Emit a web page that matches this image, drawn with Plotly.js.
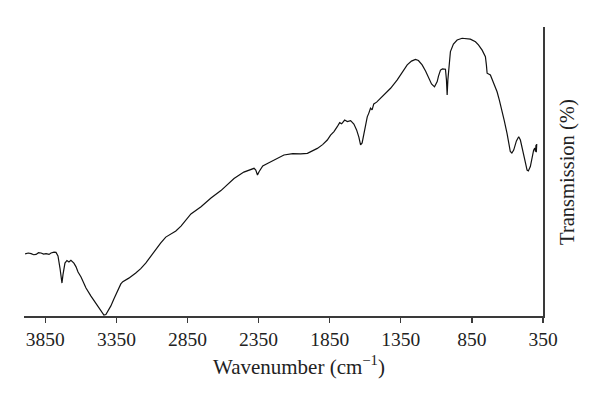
<!DOCTYPE html>
<html>
<head>
<meta charset="utf-8">
<script src="https://cdn.plot.ly/plotly-3.0.1.min.js"></script>
<style>html,body{margin:0;padding:0;background:#fff;}#chart{width:600px;height:396px;}</style>
</head>
<body>
<div id="chart"></div>
<script>
// Wavenumber (cm^-1)
const wavenumber = [3992,3970,3950,3932,3915,3898,3880,3862,3845,3824,3810,3789,3775,3761,3747,3733,3726,3712,3698,3684,3670,3649,3634,3620,3599,3564,3529,3494,3459,3438,3424,3403,3389,3368,3340,3319,3305,3263,3214,3179,3144,3108,3073,3038,3003,2967,2932,2896,2826,2755,2685,2615,2523,2454,2382,2370,2358,2347,2321,2288,2230,2172,2110,2054,2007,1937,1900,1867,1844,1820,1797,1780,1766,1745,1726,1703,1680,1661,1645,1633,1622,1610,1598,1586,1575,1563,1552,1540,1520,1492,1422,1375,1345,1305,1275,1247,1226,1200,1176,1153,1134,1113,1094,1085,1071,1057,1036,1029,1024,1019,1013,1001,980,954,919,889,861,825,804,778,755,748,743,720,699,673,657,638,622,603,590,580,569,556,537,521,509,497,481,462,453,439,429,416,408,403,399,397,394];
// Transmission (%) (arbitrary units, 0-100)
const transmission = [21.5,21.8,21.6,21.2,21.3,21.9,21.8,21.4,21.6,21.3,21.8,22.1,22.0,20.8,16.6,11.4,14.2,18.3,19.2,18.7,19.3,18.3,17.0,15.2,13.5,9.7,6.9,4.5,2.1,0.35,0.5,2.1,3.5,5.9,9.0,11.1,11.9,13.1,14.9,16.4,18.3,20.8,22.8,25.3,27.3,28.5,29.4,31.1,35.3,37.8,40.8,43.4,47.6,49.8,51.1,50.5,48.8,49.9,51.9,52.8,54.3,55.7,56.2,56.1,56.3,58.0,59.3,60.9,62.6,63.8,65.5,66.9,66.5,67.8,67.3,67.6,66.4,64.4,61.9,59.2,59.9,63.0,65.6,68.9,70.2,71.9,71.3,73.4,74.0,75.3,78.8,81.7,84.1,86.9,88.2,88.8,88.4,86.9,84.8,82.2,80.3,79.3,81.1,83.0,85.1,85.5,85.4,81.7,76.5,81.7,85.1,91.5,94.1,95.5,96.1,96.0,95.8,94.9,93.8,92.0,89.7,86.8,84.0,83.4,81.0,77.6,74.7,71.3,67.5,63.2,59.9,56.9,56.4,57.4,60.6,62.0,60.9,58.6,54.7,50.5,50.2,51.7,54.7,57.4,58.1,56.9,59.2,56.7,59.5];
const xTicks = [3850,3350,2850,2350,1850,1350,850,350];

const font = "'Liberation Serif', 'Times New Roman', serif";
const axisColor = '#3a3a3a';
const textColor = '#222';

Plotly.newPlot('chart', [{
  x: wavenumber,
  y: transmission,
  type: 'scatter',
  mode: 'lines',
  line: {color: '#111', width: 1.2},
  hoverinfo: 'skip'
}], {
  width: 600, height: 396,
  margin: {l: 24, r: 57, t: 27, b: 80},
  paper_bgcolor: '#fff', plot_bgcolor: '#fff',
  showlegend: false,
  font: {family: font, size: 19, color: textColor},
  xaxis: {
    range: [4000, 350],
    tickvals: xTicks,
    ticktext: xTicks.map(String),
    ticks: 'outside', ticklen: 5, tickwidth: 1.3, tickcolor: axisColor,
    showline: true, linecolor: axisColor, linewidth: 1.5,
    showgrid: false, zeroline: false,
    tickfont: {family: font, size: 19.5, color: textColor}
  },
  yaxis: {
    range: [0, 100],
    side: 'right',
    tickvals: [],
    showline: true, linecolor: axisColor, linewidth: 1.5,
    showticklabels: false, ticks: '',
    showgrid: false, zeroline: false
  },
  annotations: [
    {text: 'Wavenumber (cm<sup>\u22121</sup>)', xref: 'paper', yref: 'paper',
     x: 0.53, y: -0.17, xanchor: 'center', yanchor: 'middle', showarrow: false,
     font: {family: font, size: 21, color: textColor}},
    {text: 'Transmission (%)', xref: 'paper', yref: 'paper', textangle: -90,
     x: 1.047, y: 0.5, xanchor: 'center', yanchor: 'middle', showarrow: false,
     font: {family: font, size: 20.5, color: textColor}}
  ]
}, {displayModeBar: false, staticPlot: true});
</script>
</body>
</html>
